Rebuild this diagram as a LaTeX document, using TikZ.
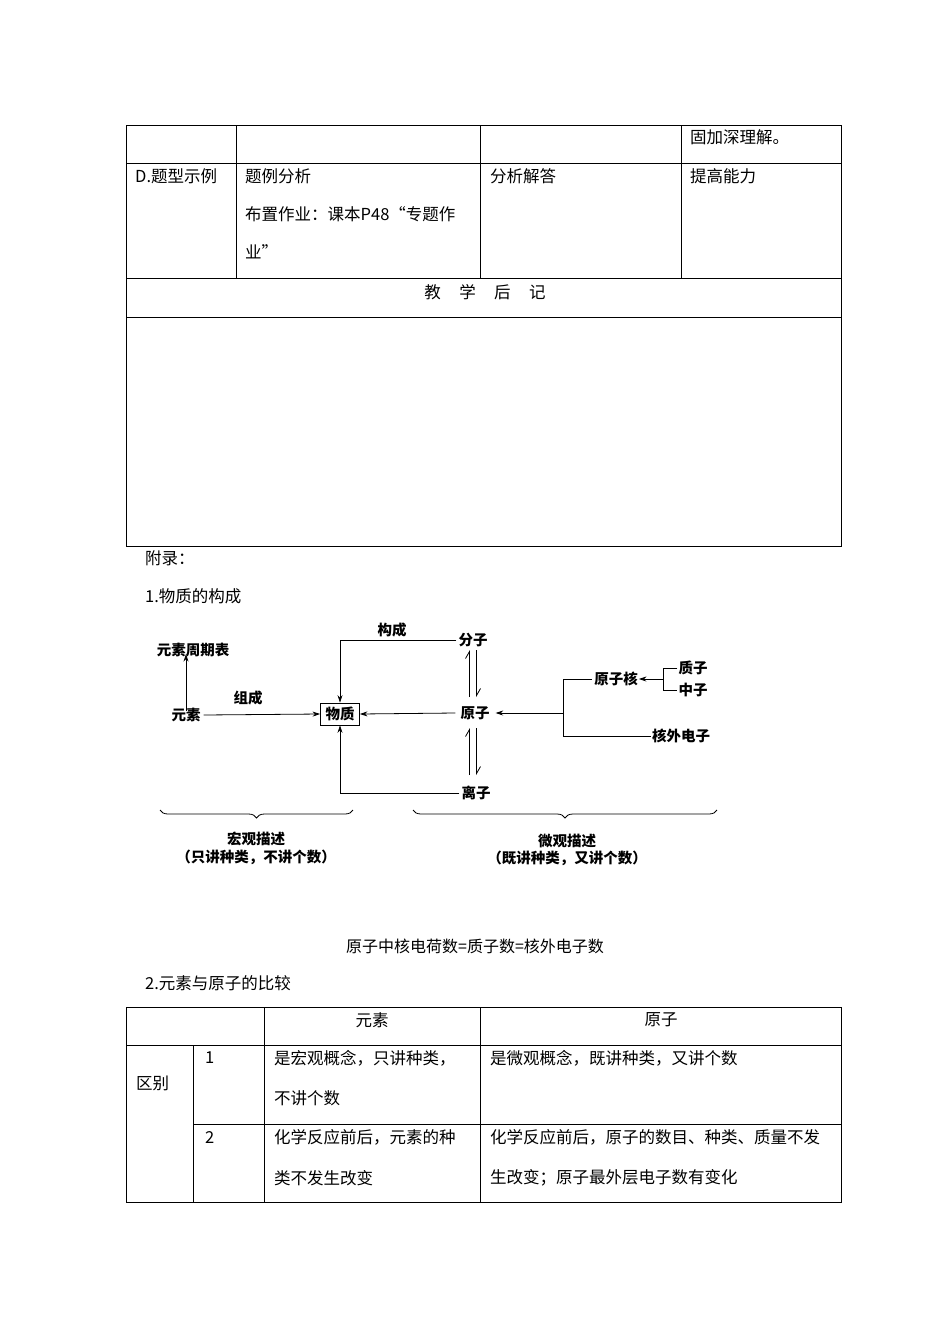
\documentclass[tikz,border=0pt]{standalone}
\usepackage{fontspec}
\setmainfont{Noto Sans CJK SC}
\usetikzlibrary{arrows.meta,decorations.pathreplacing}
\begin{document}
\begin{tikzpicture}[x=1pt,y=-1pt,
  tbl/.style={line width=0.9pt,black},
  txt/.style={inner sep=0pt,anchor=west,font=\fontsize{16.5}{18}\selectfont},
  ctxt/.style={inner sep=0pt,anchor=center,font=\fontsize{16.5}{18}\selectfont},
  dg/.style={inner sep=0pt,font=\fontsize{14.5}{16}\selectfont\bfseries},
  ln/.style={line width=0.8pt},
  arr/.style={line width=0.8pt,-{Stealth[length=7.5pt,width=5pt]}},
  harp/.style={line width=0.8pt,-{Straight Barb[left,length=7pt,width=8pt]}},
  brc/.style={line width=0.8pt,decorate,decoration={brace,mirror,amplitude=8pt}}]
\fill[white] (0,0) rectangle (950,1344);
\useasboundingbox (0,0) rectangle (950,1344);
% ---------- top table ----------
\draw[tbl] (126,125) rectangle (841,546);
\draw[tbl] (126,163) -- (841,163);
\draw[tbl] (126,278) -- (841,278);
\draw[tbl] (126,317) -- (841,317);
\draw[tbl] (236,125) -- (236,278);
\draw[tbl] (480,125) -- (480,278);
\draw[tbl] (681,125) -- (681,278);
\node[txt] (t1) at (690,137) {固加深理解。};
\node[txt] (t2) at (135,176) {D.题型示例};
\node[txt] (t3) at (245,176) {题例分析};
\node[txt] (t4) at (245,214) {布置作业：课本P48“专题作};
\node[txt] (t5) at (245,252) {业”};
\node[txt] (t6) at (490,176) {分析解答};
\node[txt] (t7) at (690,176) {提高能力};
\node[ctxt] (t8) at (485,292) {教\hspace{18.5pt}学\hspace{18.5pt}后\hspace{18.5pt}记};
\node[txt] (t9) at (145,558) {附录：};
\node[txt] (t10) at (145,596) {1.物质的构成};
% ---------- diagram ----------
\node[dg] (zqb) at (193,650) {元素周期表};
\node[dg] (ys) at (186,715) {元素};
\node[dg,draw,line width=0.8pt,inner xsep=5pt,inner ysep=4pt] (wz) at (340,714) {物质};
\node[dg] (fz) at (473,640) {分子};
\node[dg] (yz) at (475,713) {原子};
\node[dg] (lz) at (476,793) {离子};
\node[dg] (yzh) at (616,679) {原子核};
\node[dg] (hw) at (681,736) {核外电子};
\node[dg] (zz) at (693,668) {质子};
\node[dg] (mz) at (693,690) {中子};
\node[dg] (gc) at (392,630) {构成};
\node[dg] (zc) at (248,698) {组成};
\node[dg] (hg1) at (256,839) {宏观描述};
\node[dg] (hg2) at (256,857) {（只讲种类，不讲个数）};
\node[dg] (wg1) at (567,841) {微观描述};
\node[dg] (wg2) at (567,858) {（既讲种类，又讲个数）};
\draw[arr] ([yshift=-3pt]ys.north) -- ([yshift=3pt]ys.north |- zqb.south);
\draw[arr] ([xshift=3pt]ys.east) -- (wz.west);
\draw[arr] ([xshift=-2pt]fz.west) -| (wz.north);
\draw[arr] ([xshift=-2pt]lz.west) -| (wz.south);
\draw[arr] ([xshift=-5pt]yz.west) -- (wz.east);
% harpoons
\draw[harp] ([xshift=-3.5pt]fz.south |- 0,697) -- ([xshift=-3.5pt]fz.south |- 0,650);
\draw[harp] ([xshift=3.5pt]fz.south |- 0,650) -- ([xshift=3.5pt]fz.south |- 0,697);
\draw[harp] ([xshift=-3.5pt]fz.south |- 0,775) -- ([xshift=-3.5pt]fz.south |- 0,728);
\draw[harp] ([xshift=3.5pt]fz.south |- 0,728) -- ([xshift=3.5pt]fz.south |- 0,775);
% right group
\coordinate (br) at (563,713);
\coordinate (brt) at (563,679);
\coordinate (brb) at (563,736);
\draw[arr] (br) -- ([xshift=6pt]yz.east);
\draw[ln] ([xshift=-2pt]yzh.west) -- (brt) -- (brb) -- ([xshift=-1pt]hw.west);
\coordinate (nb) at (663,679);
\coordinate (nbt) at (663,668);
\coordinate (nbb) at (663,690);
\draw[arr] (nb) -- ([xshift=1pt]yzh.east);
\draw[ln] ([xshift=-1pt]zz.west) -- (nbt) -- (nbb) -- ([xshift=-1pt]mz.west);
% braces
\draw[brc] (160,810) -- (353,810);
\draw[brc] (413,810) -- (717,810);
% ---------- text between ----------
\node[ctxt,font=\fontsize{16}{18}\selectfont] (eq) at (475,946) {原子中核电荷数=质子数=核外电子数};
\node[txt] (h2) at (145,983) {2.元素与原子的比较};
% ---------- bottom table ----------
\draw[tbl] (126,1007) rectangle (841,1202);
\draw[tbl] (126,1045) -- (841,1045);
\draw[tbl] (193,1124) -- (841,1124);
\draw[tbl] (193,1045) -- (193,1202);
\draw[tbl] (264,1007) -- (264,1202);
\draw[tbl] (480,1007) -- (480,1202);
\node[ctxt] (b1) at (372,1020) {元素};
\node[ctxt] (b2) at (661,1020) {原子};
\node[txt] (b3) at (136,1083) {区别};
\node[txt] (b4) at (205,1058) {1};
\node[txt] (b5) at (274,1058) {是宏观概念，只讲种类，};
\node[txt] (b6) at (274,1098) {不讲个数};
\node[txt] (b7) at (490,1058) {是微观概念，既讲种类，又讲个数};
\node[txt] (b8) at (205,1137) {2};
\node[txt] (b9) at (274,1137) {化学反应前后，元素的种};
\node[txt] (b10) at (274,1178) {类不发生改变};
\node[txt] (b11) at (490,1137) {化学反应前后，原子的数目、种类、质量不发};
\node[txt] (b12) at (490,1178) {生改变；原子最外层电子数有变化};
\end{tikzpicture}
\end{document}
